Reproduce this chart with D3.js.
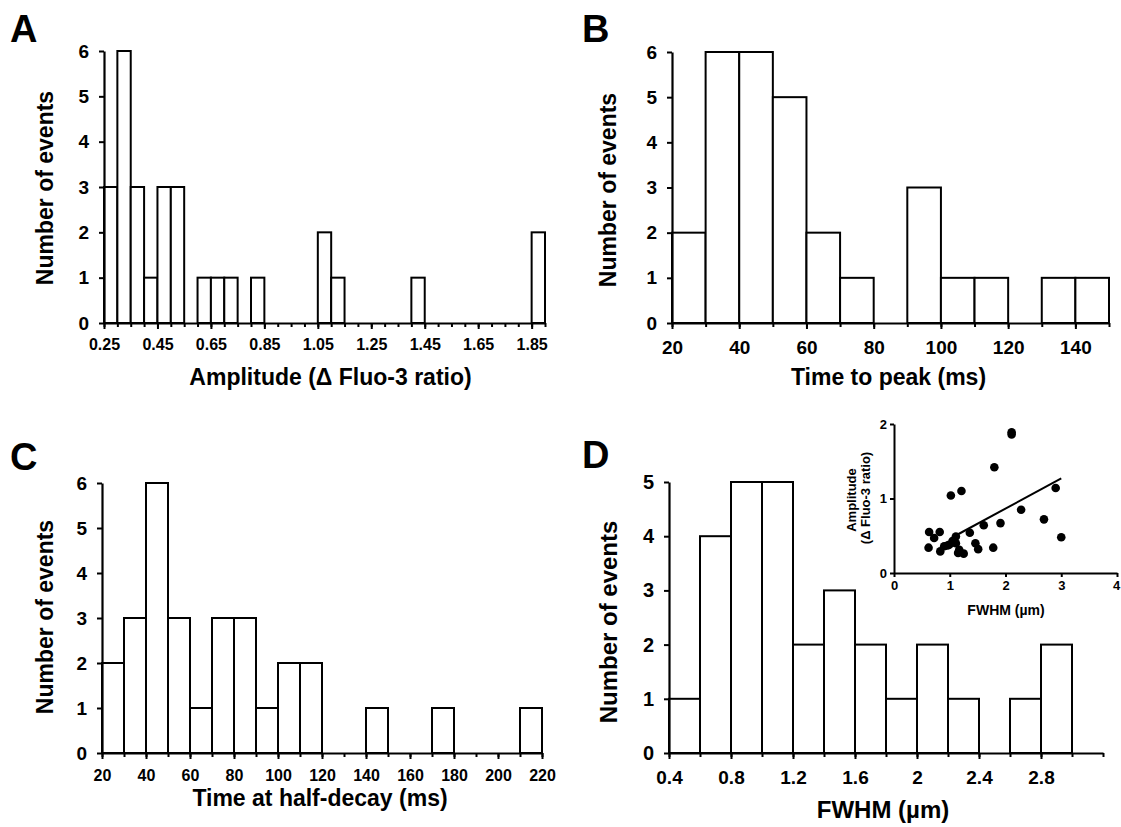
<!DOCTYPE html>
<html>
<head>
  <meta charset="utf-8">
  <title>Histograms of event properties</title>
  <script src="https://d3js.org/d3.v7.min.js"></script>
  <style>
    body { margin: 0; background: #fff; }
    text { font-family: "Liberation Sans", Arial, sans-serif; font-weight: bold; fill: #000; }
  </style>
</head>
<body>
<div id="chart"></div>
<script>

// ---- data ----
// A: amplitude, bins of 0.05 starting at 0.25
var ampBins   = d3.range(33).map(function(i){ return 0.25 + i * 0.05; });
var ampCounts = [3,6,3,1,3,3,0,1,1,1,0,1,0,0,0,0,2,1,0,0,0,0,0,1,0,0,0,0,0,0,0,0,2];
var ampTicks  = ["0.25","0.45","0.65","0.85","1.05","1.25","1.45","1.65","1.85"];

// B: time to peak, bins of 10 ms starting at 20
var ttpBins   = [20,30,40,50,60,70,80,90,100,110,120,130,140];
var ttpCounts = [2,6,6,5,2,1,0,3,1,1,0,1,1];
var ttpTicks  = ["20","40","60","80","100","120","140"];

// C: time at half-decay, bins of 10 ms starting at 20
var thdBins   = [20,30,40,50,60,70,80,90,100,110,120,130,140,150,160,170,180,190,200,210];
var thdCounts = [2,3,6,3,1,3,3,1,2,2,0,0,1,0,0,1,0,0,0,1];
var thdTicks  = ["20","40","60","80","100","120","140","160","180","200","220"];

// D: FWHM, bins of 0.2 um starting at 0.4
var fwhmBins   = [0.4,0.6,0.8,1.0,1.2,1.4,1.6,1.8,2.0,2.2,2.4,2.6,2.8];
var fwhmCounts = [1,4,5,5,2,3,2,1,2,1,0,1,2];
var fwhmTicks  = ["0.4","0.8","1.2","1.6","2","2.4","2.8"];

// D inset: amplitude vs FWHM scatter + fitted line
var insetFwhm = [0.63,0.82,0.72,0.62,0.83,0.90,1.02,1.21,1.11,1.11,0.99,1.17,1.15,1.25,1.36,1.46,1.51,1.61,1.78,1.80,1.91,2.11,2.11,2.28,2.69,2.90,3.00,0.96,1.05];
var insetAmp  = [0.55,0.55,0.47,0.34,0.29,0.36,1.04,1.10,0.49,0.40,0.38,0.31,0.27,0.26,0.54,0.40,0.32,0.64,0.34,1.42,0.67,1.89,1.86,0.85,0.72,1.14,0.48,0.37,0.43];
var fitX = [1.1, 3.0];
var fitY = [0.50, 1.27];

var width = 1121, height = 827;

var svg = d3.select("#chart").append("svg")
  .attr("width", width)
  .attr("height", height);

function drawHist(p) {
  var x = d3.scaleLinear().domain(p.xDomain).range([p.left, p.right]);
  var y = d3.scaleLinear().domain([0, p.yMax]).range([p.bottom, p.top]);
  var g = svg.append("g");

  // bars
  var bars = p.bins.map(function(b, i){ return {x0: b, x1: b + p.binWidth, n: p.counts[i]}; })
    .filter(function(d){ return d.n > 0; });
  g.selectAll("rect.bar")
    .data(bars)
    .enter().append("rect")
      .attr("class", "bar")
      .attr("x", function(d){ return x(d.x0); })
      .attr("y", function(d){ return y(d.n); })
      .attr("width", function(d){ return x(d.x1) - x(d.x0); })
      .attr("height", function(d){ return y(0) - y(d.n); })
      .attr("fill", "#fff")
      .attr("stroke", "#000")
      .attr("stroke-width", 2);

  // minor ticks on x axis
  g.append("g")
    .attr("transform", "translate(0," + p.bottom + ")")
    .call(d3.axisBottom(x).tickValues(p.minor).tickSize(4).tickFormat(""))
    .call(function(s){ s.select(".domain").remove(); })
    .selectAll("line").attr("stroke-width", 2);

  // labelled x axis
  var xa = g.append("g")
    .attr("transform", "translate(0," + p.bottom + ")")
    .call(d3.axisBottom(x).tickValues(p.ticks.map(Number)).tickSize(6).tickSizeOuter(0)
      .tickPadding(p.xPad).tickFormat(function(d, i){ return p.ticks[i]; }));
  xa.select(".domain").attr("stroke-width", 2.2);
  xa.selectAll("line").attr("stroke-width", 2);
  xa.selectAll("text").style("font-size", p.xFont + "px").style("font-family", null);

  // y axis
  var ya = g.append("g")
    .attr("transform", "translate(" + p.left + ",0)")
    .call(d3.axisLeft(y).ticks(p.yMax).tickSize(5).tickSizeOuter(0).tickPadding(10).tickFormat(d3.format("d")));
  ya.select(".domain").attr("stroke-width", 2.2);
  ya.selectAll("line").attr("stroke-width", 2);
  ya.selectAll("text").style("font-size", p.yFont + "px").style("font-family", null);

  // titles
  svg.append("text")
    .attr("x", (p.left + p.right) / 2 + p.xTitleDx)
    .attr("y", p.xTitleY)
    .attr("text-anchor", "middle")
    .style("font-size", p.titleFont + "px")
    .text(p.xTitle);

  svg.append("text")
    .attr("transform", "translate(" + p.yTitleX + "," + p.yTitleY + ") rotate(-90)")
    .attr("text-anchor", "middle")
    .style("font-size", p.titleFont + "px")
    .text("Number of events");

  svg.append("text")
    .attr("x", p.letterX)
    .attr("y", p.letterY)
    .style("font-size", "38px")
    .text(p.letter);
}

drawHist({
  letter: "A", letterX: 10, letterY: 42,
  left: 104, right: 545, top: 51, bottom: 323,
  xDomain: [0.25, 1.90], yMax: 6,
  bins: ampBins, binWidth: 0.05, counts: ampCounts,
  ticks: ampTicks, minor: d3.range(34).map(function(i){ return 0.25 + i * 0.05; }),
  xFont: 16, yFont: 19, xPad: 10, titleFont: 23,
  xTitle: "Amplitude (\u0394 Fluo-3 ratio)", xTitleDx: 6, xTitleY: 385,
  yTitleX: 53, yTitleY: 188
});

drawHist({
  letter: "B", letterX: 582, letterY: 42,
  left: 672, right: 1109, top: 52, bottom: 323,
  xDomain: [20, 150], yMax: 6,
  bins: ttpBins, binWidth: 10, counts: ttpCounts,
  ticks: ttpTicks, minor: d3.range(20, 151, 10),
  xFont: 19, yFont: 19, xPad: 12, titleFont: 23,
  xTitle: "Time to peak (ms)", xTitleDx: -2, xTitleY: 385,
  yTitleX: 616, yTitleY: 190
});

drawHist({
  letter: "C", letterX: 10, letterY: 470,
  left: 102, right: 542, top: 483, bottom: 753,
  xDomain: [20, 220], yMax: 6,
  bins: thdBins, binWidth: 10, counts: thdCounts,
  ticks: thdTicks, minor: d3.range(20, 221, 10),
  xFont: 16, yFont: 19, xPad: 11, titleFont: 23,
  xTitle: "Time at half-decay (ms)", xTitleDx: -2, xTitleY: 806,
  yTitleX: 53, yTitleY: 617
});

drawHist({
  letter: "D", letterX: 582, letterY: 468,
  left: 669, right: 1103, top: 482, bottom: 753,
  xDomain: [0.4, 3.2], yMax: 5,
  bins: fwhmBins, binWidth: 0.2, counts: fwhmCounts,
  ticks: fwhmTicks, minor: d3.range(15).map(function(i){ return 0.4 + i * 0.2; }),
  xFont: 19, yFont: 20, xPad: 12, titleFont: 24,
  xTitle: "FWHM (\u00b5m)", xTitleDx: -3, xTitleY: 818,
  yTitleX: 617, yTitleY: 622
});

// ---- inset scatter in D ----
var ix = d3.scaleLinear().domain([0, 4]).range([894, 1117]);
var iy = d3.scaleLinear().domain([0, 2]).range([573, 424]);
var inset = svg.append("g");

inset.selectAll("circle")
  .data(insetFwhm.map(function(v, i){ return [v, insetAmp[i]]; }))
  .enter().append("circle")
    .attr("cx", function(d){ return ix(d[0]); })
    .attr("cy", function(d){ return iy(d[1]); })
    .attr("r", 4.3)
    .attr("fill", "#000");

inset.append("path")
  .datum(fitX.map(function(v, i){ return [v, fitY[i]]; }))
  .attr("d", d3.line().x(function(d){ return ix(d[0]); }).y(function(d){ return iy(d[1]); }))
  .attr("stroke", "#000")
  .attr("stroke-width", 2)
  .attr("fill", "none");

var ixa = inset.append("g")
  .attr("transform", "translate(0,573)")
  .call(d3.axisBottom(ix).ticks(4).tickSize(4).tickSizeOuter(0).tickPadding(4));
ixa.select(".domain").attr("stroke-width", 2);
ixa.selectAll("line").attr("stroke-width", 2);
ixa.selectAll("text").style("font-size", "13px").style("font-family", null);
// keep the last label inside the page edge
ixa.selectAll("text").filter(function(d){ return d === 4; }).attr("text-anchor", "end").attr("dx", "0.2em");

var iya = inset.append("g")
  .attr("transform", "translate(894,0)")
  .call(d3.axisLeft(iy).ticks(2).tickSize(4).tickSizeOuter(0).tickPadding(3));
iya.select(".domain").attr("stroke-width", 2);
iya.selectAll("line").attr("stroke-width", 2);
iya.selectAll("text").style("font-size", "13px").style("font-family", null);

inset.append("text")
  .attr("x", 1006).attr("y", 615)
  .attr("text-anchor", "middle")
  .style("font-size", "14px")
  .text("FWHM (\u00b5m)");

inset.append("text")
  .attr("transform", "translate(856,500) rotate(-90)")
  .attr("text-anchor", "middle")
  .style("font-size", "13px")
  .text("Amplitude");

inset.append("text")
  .attr("transform", "translate(870,498) rotate(-90)")
  .attr("text-anchor", "middle")
  .style("font-size", "13px")
  .text("(\u0394 Fluo-3 ratio)");

</script>
</body>
</html>
